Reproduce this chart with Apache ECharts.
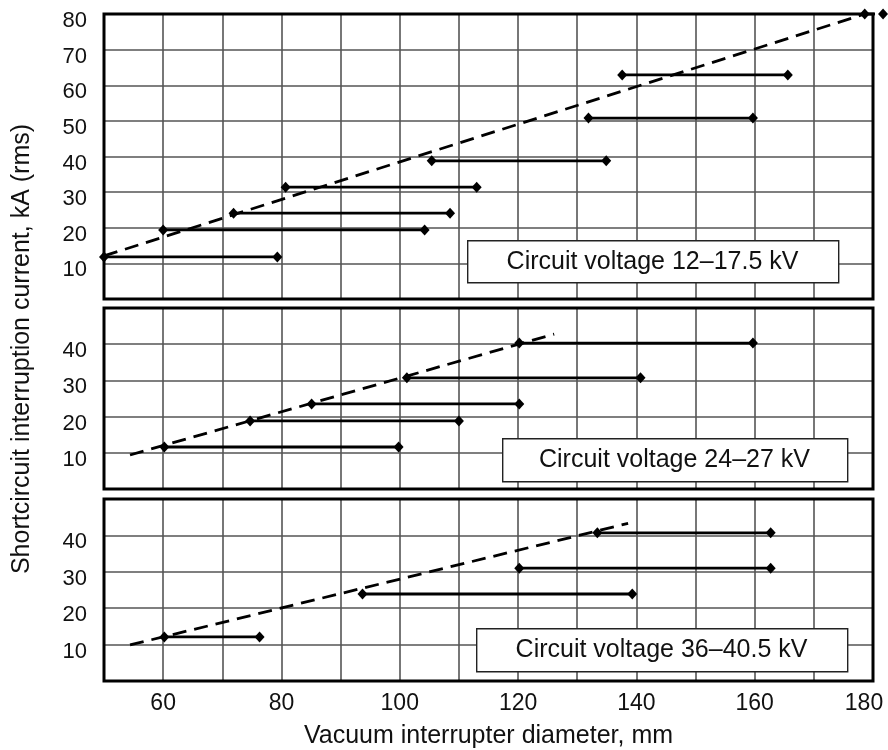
<!DOCTYPE html>
<html>
<head>
<meta charset="utf-8">
<script src="https://cdn.jsdelivr.net/npm/echarts@6/dist/echarts.min.js"></script>
<style>
html,body{margin:0;padding:0;background:#fff;}
#chart{width:888px;height:750px;}
</style>
</head>
<body>
<div id="chart"></div>
<script>
// ---- data ----
const xTickLabels = [60, 80, 100, 120, 140, 160, 180];
const panelTitles = ['Circuit voltage 12\u201317.5 kV', 'Circuit voltage 24\u201327 kV', 'Circuit voltage 36\u201340.5 kV'];
const panelYMax = [80, 50, 50];

// Panel 1: 12–17.5 kV
const p1Level = [11.8, 19.4, 24.1, 31.4, 38.8, 50.8, 62.9, 80];
const p1Start = [50, 60, 71.9, 80.7, 105.4, 131.9, 137.6, 178.6];
const p1End   = [79.3, 104.2, 108.5, 113, 134.9, 159.7, 165.6, 181.7];
const p1TrendX = [50, 178.6];
const p1TrendY = [12.1, 80];

// Panel 2: 24–27 kV
const p2Level = [11.6, 18.8, 23.5, 30.7, 40.3];
const p2Start = [60.2, 74.7, 85.1, 101.2, 120.2];
const p2End   = [99.8, 110, 120.2, 140.7, 159.7];
const p2TrendX = [54.4, 126.1];
const p2TrendY = [9.4, 42.8];

// Panel 3: 36–40.5 kV
const p3Level = [12.1, 23.9, 31.0, 40.7];
const p3Start = [60.2, 93.7, 120.2, 133.4];
const p3End   = [76.3, 139.3, 162.7, 162.7];
const p3TrendX = [54.4, 138.6];
const p3TrendY = [9.9, 43.3];

const xLabel = 'Vacuum interrupter diameter, mm';
const yLabel = 'Shortcircuit interruption current, kA (rms)';

// ---- chart ----
const FONT = 'Liberation Sans, Arial, sans-serif';
const panels = [
  {level: p1Level, start: p1Start, end: p1End, tx: p1TrendX, ty: p1TrendY},
  {level: p2Level, start: p2Start, end: p2End, tx: p2TrendX, ty: p2TrendY},
  {level: p3Level, start: p3Start, end: p3End, tx: p3TrendX, ty: p3TrendY}
];
const gridBoxes = [
  {top: 14, height: 285},
  {top: 308, height: 181},
  {top: 499, height: 182}
];
const noteBoxes = [
  {x: 467, y: 240, w: 371, h: 42},
  {x: 502, y: 438, w: 345, h: 43},
  {x: 476, y: 628, w: 371, h: 43}
];

const grids = gridBoxes.map(g => ({
  left: 104, right: 15, top: g.top, height: g.height,
  outerBoundsMode: 'none', containLabel: false,
  show: true, borderWidth: 3, borderColor: '#000', backgroundColor: 'transparent', z: 1
}));

const lastTick = xTickLabels[xTickLabels.length - 1];
const xAxes = gridBoxes.map((g, i) => ({
  type: 'value', gridIndex: i, min: 50, max: 180, interval: 10,
  axisLine: {show: false}, axisTick: {show: false},
  splitLine: {show: true, lineStyle: {color: '#555', width: 1.6}},
  axisLabel: {
    show: i === 2, margin: 11, color: '#111', fontSize: 23, fontFamily: FONT,
    hideOverlap: false,
    formatter: v => (xTickLabels.indexOf(v) >= 0 ? (v === lastTick ? '{e|' + v + '}' : String(v)) : ''),
    rich: {e: {color: '#111', fontSize: 23, fontFamily: FONT, padding: [0, 18, 0, 0]}}
  },
  name: i === 2 ? xLabel : '', nameLocation: 'middle', nameGap: 43,
  nameTextStyle: {color: '#111', fontSize: 25, fontFamily: FONT}
}));

const yAxes = gridBoxes.map((g, i) => ({
  type: 'value', gridIndex: i, min: 0, max: panelYMax[i], interval: 10,
  axisLine: {show: false}, axisTick: {show: false},
  splitLine: {show: true, lineStyle: {color: '#555', width: 1.6}},
  axisLabel: {
    margin: 17, color: '#111', fontSize: 22, fontFamily: FONT,
    verticalAlign: 'top', lineHeight: 14,
    formatter: v => (v === 0 || (i > 0 && v === panelYMax[i]) ? '' : String(v))
  }
}));

const series = [];
panels.forEach((p, i) => {
  p.level.forEach((lv, k) => {
    series.push({
      type: 'line', xAxisIndex: i, yAxisIndex: i, clip: false, z: 3,
      data: [[p.start[k], lv], [p.end[k], lv]],
      symbol: 'diamond', symbolSize: [10, 11], showSymbol: true,
      itemStyle: {color: '#000'},
      lineStyle: {color: '#000', width: 2.8},
      animation: false, silent: true
    });
  });
  series.push({
    type: 'line', xAxisIndex: i, yAxisIndex: i, clip: false, z: 3,
    data: p.tx.map((x, k) => [x, p.ty[k]]),
    symbol: 'none',
    lineStyle: {color: '#000', width: 2.8, type: [14, 8]},
    animation: false, silent: true
  });
});

const graphics = [];
noteBoxes.forEach((b, i) => {
  graphics.push({
    type: 'rect', left: b.x, top: b.y, z: 100,
    shape: {x: 0, y: 0, width: b.w, height: b.h},
    style: {fill: '#ffffff', stroke: '#222', lineWidth: 1.4}
  });
  graphics.push({
    type: 'text', x: b.x + b.w / 2, y: b.y + b.h / 2 + 1, z: 101,
    style: {text: panelTitles[i], fill: '#111', fontSize: 25, fontFamily: FONT,
            align: 'center', verticalAlign: 'middle',
            textAlign: 'center', textVerticalAlign: 'middle'}
  });
});
graphics.push({
  type: 'text', x: 22, y: 349, rotation: Math.PI / 2, z: 100,
  style: {text: yLabel, fill: '#111', fontSize: 25, fontFamily: FONT,
          align: 'center', verticalAlign: 'middle',
          textAlign: 'center', textVerticalAlign: 'middle'}
});

const chart = echarts.init(document.getElementById('chart'), null, {renderer: 'canvas'});
chart.setOption({
  animation: false,
  backgroundColor: '#fff',
  grid: grids,
  xAxis: xAxes,
  yAxis: yAxes,
  series: series,
  graphic: graphics
});
</script>
</body>
</html>
